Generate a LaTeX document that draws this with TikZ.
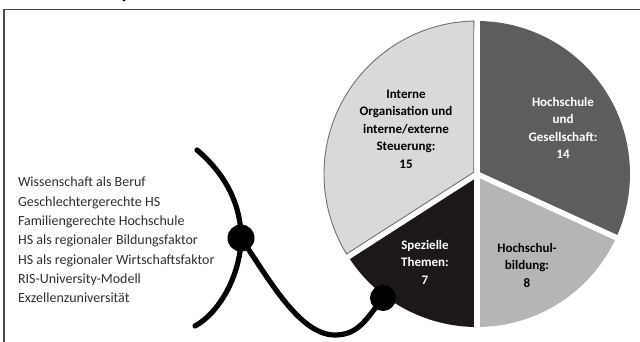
\documentclass[tikz,border=0pt]{standalone}
\usepackage{fontspec}
\setmainfont{Carlito}
\usetikzlibrary{calc}
\definecolor{cLight}{HTML}{D8D9DB}
\definecolor{cDark}{HTML}{5D5D5F}
\definecolor{cMid}{HTML}{B4B5B7}
\definecolor{cBlack}{HTML}{1C1819}
\definecolor{cOutline}{HTML}{707070}
\definecolor{cFrame}{HTML}{4A4A4A}
\definecolor{cText}{HTML}{2E2E2E}
\begin{document}
\begin{tikzpicture}[x=1pt,y=1pt,
  slicetext/.style={align=center,font=\bfseries\fontsize{13}{17.5}\selectfont},
  gap/.style={white,line width=5.5pt},
  cable/.style={black,line width=5.2pt,line cap=round},
  plug/.style={circle,fill=black,inner sep=0pt,minimum size=27pt}]
\useasboundingbox (0,0) rectangle (640,341);
% frame
\draw[cFrame,line width=1.3pt] (4,-5) -- (4,331.5) -- (645,331.5);
\node[anchor=base west,inner sep=0pt,font=\bfseries\fontsize{20}{24}\selectfont] (ttl) at (121.5,342.2) {p};
% pie
\coordinate (C) at (477,167);
\fill[cDark] (C) -- ++(90:153pt) arc[start angle=90,end angle=-24.545,radius=153pt] -- cycle;
\fill[cMid] (C) -- ++(-24.545:153pt) arc[start angle=-24.545,end angle=-90,radius=153pt] -- cycle;
\fill[cBlack] (C) -- ++(-90:153pt) arc[start angle=-90,end angle=-147.273,radius=153pt] -- cycle;
\draw[gap,line width=6.5pt] (C) -- ++(90:160pt);
\draw[gap] (C) -- ++(-24.545:160pt);
\draw[gap] (C) -- ++(-90:160pt);
\draw[gap] (C) -- ++(212.727:160pt);
\coordinate (V) at ($(C)+(-3.25,1.75)$);
\filldraw[fill=cLight,draw=cOutline,line width=0.9pt]
  (V) -- ($(C)+(91.2:153pt)$) arc[start angle=91.2,end angle=211.5,radius=153pt] -- cycle;
% labels
\node[slicetext,text=black] (intern) at (406,212) {Interne\\Organisation und\\interne/externe\\Steuerung:\\15};
\node[slicetext,text=white] (gesell) at (563,213) {Hochschule\\und\\Gesellschaft:\\14};
\node[slicetext,text=white] (themen) at (425,79) {Spezielle\\Themen:\\7};
\node[slicetext,text=black] (bildung) at (527,76) {Hochschul-\\bildung:\\8};
% list
\node[anchor=west,align=left,text=cText,font=\fontsize{14}{19.33}\selectfont] (list) at (14.5,101)
 {Wissenschaft als Beruf\\Geschlechtergerechte HS\\Familiengerechte Hochschule\\HS als regionaler Bildungsfaktor\\HS als regionaler Wirtschaftsfaktor\\RIS-University-Modell\\Exzellenzuniversität};
% cable
\node[plug] (dotA) at (241,103) {};
\node[plug,minimum size=26pt] (dotB) at (383,43) {};
\coordinate (cTop) at (197,191);
\coordinate (cBot) at (195,15);
\draw[cable] (cTop) .. controls (222,170) and (241,140) .. (dotA.center) .. controls (241,70) and (222,30) .. (cBot);
\draw[cable] (dotA.center) .. controls (270,60) and (300,6) .. (335,6) .. controls (360,6) and (368,25) .. (dotB.center);
\end{tikzpicture}
\end{document}
